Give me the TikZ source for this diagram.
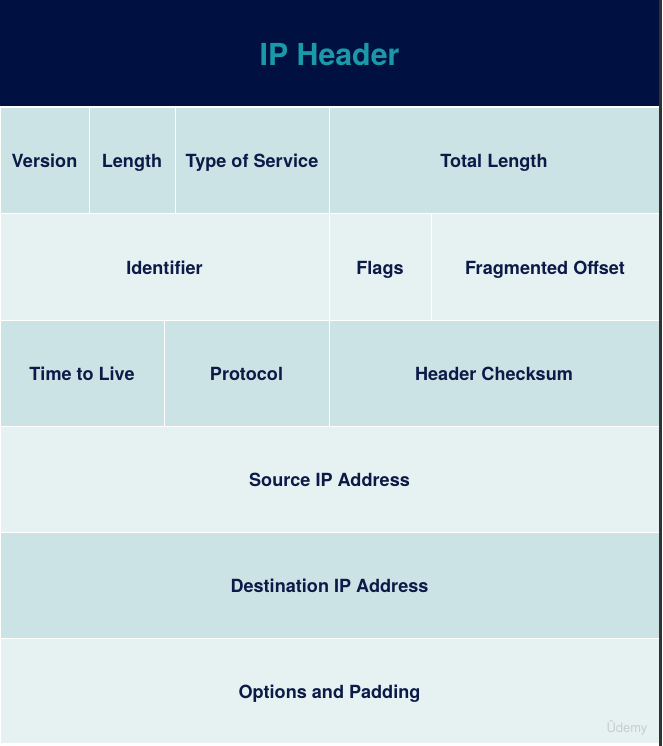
\documentclass[tikz,border=0pt]{standalone}
\usepackage{fontspec}
\setmainfont{TeX Gyre Heros}
\definecolor{bandnavy}{RGB}{0,16,64}
\definecolor{titleteal}{RGB}{26,154,168}
\definecolor{rowdark}{RGB}{204,227,229}
\definecolor{rowlight}{RGB}{230,242,242}
\definecolor{fieldtext}{RGB}{12,26,72}
\definecolor{frameedge}{RGB}{50,50,52}
\definecolor{markgray}{RGB}{200,205,207}
\begin{document}
\begin{tikzpicture}[x=1pt,y=-1pt,
  darkrow/.style={fill=rowdark, draw=white, line width=1pt},
  lightrow/.style={fill=rowlight, draw=white, line width=1pt},
  field/.style={anchor=base, inner sep=0pt, font=\fontsize{18.1}{21}\selectfont\bfseries, text=fieldtext}]
\useasboundingbox (0,0) rectangle (662,746);
\fill[white] (0,0) rectangle (662,746);
% title band
\fill[bandnavy] (0,0) rectangle (659,106);
\node[anchor=base, inner sep=0pt, font=\fontsize{30.3}{36}\selectfont\bfseries, text=titleteal] (title) at (329.5,66) {IP Header};
% row 1
\draw[darkrow] (0,108) rectangle (89,213);
\draw[darkrow] (89,108) rectangle (175,213);
\draw[darkrow] (175,108) rectangle (329,213);
\draw[darkrow] (329,108) rectangle (659,213);
\node[field] (ver) at (44.5,167.5) {Version};
\node[field] (len) at (132,167.5) {Length};
\node[field] (tos) at (252,167.5) {Type of Service};
\node[field] (tot) at (494,167.5) {Total Length};
% row 2
\draw[lightrow] (0,213) rectangle (329,320);
\draw[lightrow] (329,213) rectangle (431,320);
\draw[lightrow] (431,213) rectangle (659,320);
\node[field] (id) at (164.5,274) {Identifier};
\node[field] (flags) at (380,274) {Flags};
\node[field] (frag) at (545,274) {Fragmented Offset};
% row 3
\draw[darkrow] (0,320) rectangle (164,426);
\draw[darkrow] (164,320) rectangle (329,426);
\draw[darkrow] (329,320) rectangle (659,426);
\node[field] (ttl) at (82,380) {Time to Live};
\node[field] (proto) at (246.5,380) {Protocol};
\node[field] (chk) at (494,380) {Header Checksum};
% rows 4-6
\draw[lightrow] (0,426) rectangle (659,532);
\node[field] (src) at (329.5,486) {Source IP Address};
\draw[darkrow] (0,532) rectangle (659,638);
\node[field] (dst) at (329.5,592) {Destination IP Address};
\draw[lightrow] (0,638) rectangle (659,743);
\node[field] (opt) at (329.5,698) {Options and Padding};
% right frame edge
\fill[frameedge] (659,0) rectangle (662,746);
% watermark
\node[font=\fontsize{13}{15}\selectfont, text=markgray] (mark) at (627,728) {Ûdemy};
\end{tikzpicture}
\end{document}
